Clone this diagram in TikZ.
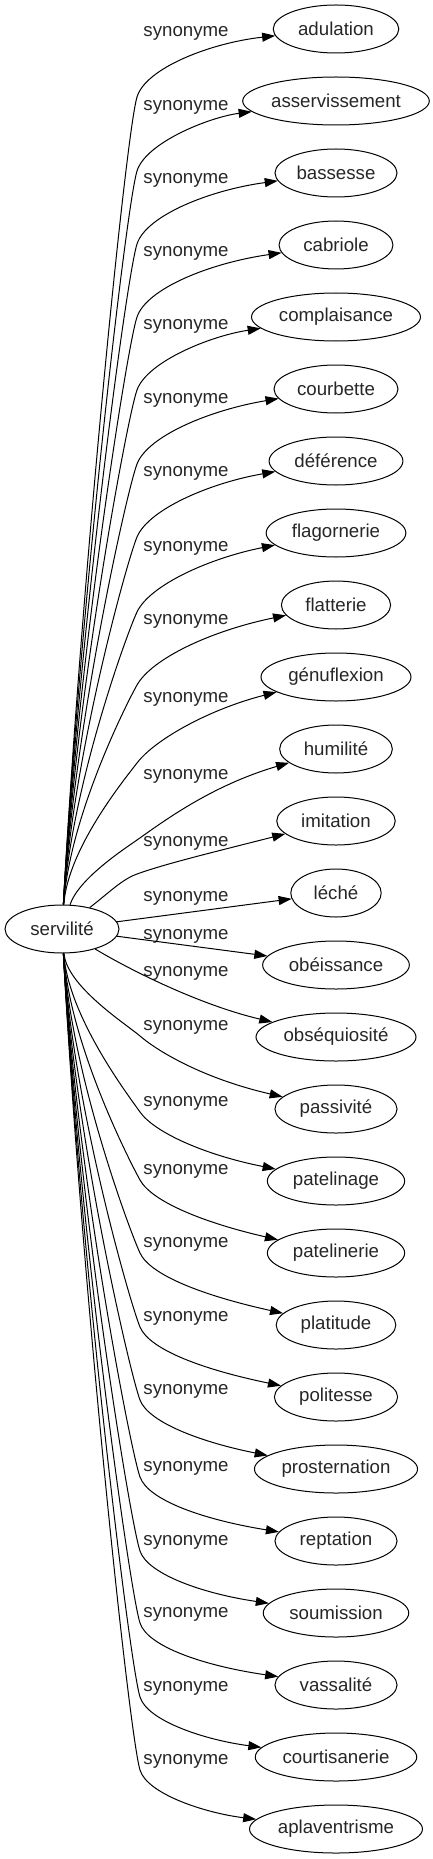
\documentclass[tikz,border=0pt]{standalone}
\usepackage{fontspec}
\setmainfont{Liberation Sans}
\usetikzlibrary{arrows.meta,shapes.geometric}
\newcommand\lblfont{\fontsize{18.67}{22}\selectfont}
\begin{document}
\begin{tikzpicture}[x=1pt,y=-1pt,
  every node/.style={font=\lblfont, text=black!85},
  term/.style={draw, ellipse, line width=1pt, minimum height=48pt, inner sep=0pt},
  rel/.style={inner sep=0pt},
  link/.style={draw, line width=1pt, -{Triangle[length=13pt,width=9pt]}}]
\useasboundingbox (0,0) rectangle (433,1859);
\node[term, minimum width=114pt] (serv) at (62,929) {servilité};
\foreach \nm/\ly/\ww [count=\i from 0] in {adulation/33/125.6, asservissement/107/186.6, bassesse/180/122, cabriole/253/113.9, complaisance/326/169, courbette/400/124, déférence/473/133.8, flagornerie/548/139.7, flatterie/621/109.2, génuflexion/699/150, humilité/776/112.7, imitation/843/118.5, léché/898/90.4, obéissance/936/146.7, obséquiosité/973/160, passivité/1027/122.1, patelinage/1103/137.3, patelinerie/1171/137.3, platitude/1244/119.7, politesse/1318/123.2, prosternation/1391/163.1, reptation/1468/122.1, soumission/1542/145.5, vassalité/1614/122.1, courtisanerie/1688/161.5, aplaventrisme/1761/173} {
  \pgfmathsetmacro\yy{29+72*\i}
  \node[term, minimum width=\ww pt] (n\i) at (336,\yy) {\nm};
  \node[rel] (l\i) at (186,\ly) {synonyme};
}
% edges to upper targets
\foreach \ly [count=\i from 0] in {33,107,180,253,326,400,473,548,621,699,776,843} {
  \pgfmathsetmacro\pb{min(64,0.5*(905-\ly))}
  \pgfmathsetmacro\pby{\ly+\pb}
  \pgfmathsetmacro\pdy{905-\pby}
  \pgfmathsetmacro\ptn{0.2+80/\pdy}
  \pgfmathsetmacro\pnn{sqrt(1+\ptn*\ptn)}
  \pgfmathsetmacro\pux{\ptn/\pnn}
  \pgfmathsetmacro\puy{1/\pnn}
  \pgfmathsetmacro\pk{15+0.03*\pdy}
  \pgfmathsetmacro\pax{max(65+0.02*\pdy,137-0.9*\pdy)}
  \pgfmathsetmacro\pay{905-0.4*\pdy}
  \pgfmathsetmacro\pbx{137-\pk*\pux}
  \pgfmathsetmacro\pbb{\pby+\pk*\puy}
  \pgfmathsetmacro\pcx{137+30*\pux}
  \pgfmathsetmacro\pcy{\pby-30*\puy}
  \pgfmathsetmacro\pdd{\ly+10}
  \draw[link] (serv) .. controls (\pax,\pay) and (\pbx,\pbb) .. (137,\pby) .. controls (\pcx,\pcy) and (210,\pdd) .. (n\i);
}
\draw[link] (serv) -- (n12);
\draw[link] (serv) -- (n13);
\draw[link] (serv) .. controls (130,970) and (200,1005) .. (n14);
% edges to lower targets
\foreach \ly [count=\i from 15] in {1027,1103,1171,1244,1318,1391,1468,1542,1614,1688,1761} {
  \pgfmathsetmacro\qby{\ly+9}
  \pgfmathsetmacro\qdy{\qby-953}
  \pgfmathsetmacro\qtn{0.2+80/\qdy}
  \pgfmathsetmacro\qnn{sqrt(1+\qtn*\qtn)}
  \pgfmathsetmacro\qux{\qtn/\qnn}
  \pgfmathsetmacro\quy{1/\qnn}
  \pgfmathsetmacro\qk{15+0.03*\qdy}
  \pgfmathsetmacro\qax{max(65+0.02*\qdy,140-0.9*\qdy)}
  \pgfmathsetmacro\qay{953+0.4*\qdy}
  \pgfmathsetmacro\qbx{140-\qk*\qux}
  \pgfmathsetmacro\qbb{\qby-\qk*\quy}
  \pgfmathsetmacro\qcx{140+25*\qux}
  \pgfmathsetmacro\qcy{\qby+25*\quy}
  \pgfmathsetmacro\qdd{\ly+52}
  \draw[link] (serv) .. controls (\qax,\qay) and (\qbx,\qbb) .. (140,\qby) .. controls (\qcx,\qcy) and (205,\qdd) .. (n\i);
}
\end{tikzpicture}
\end{document}
